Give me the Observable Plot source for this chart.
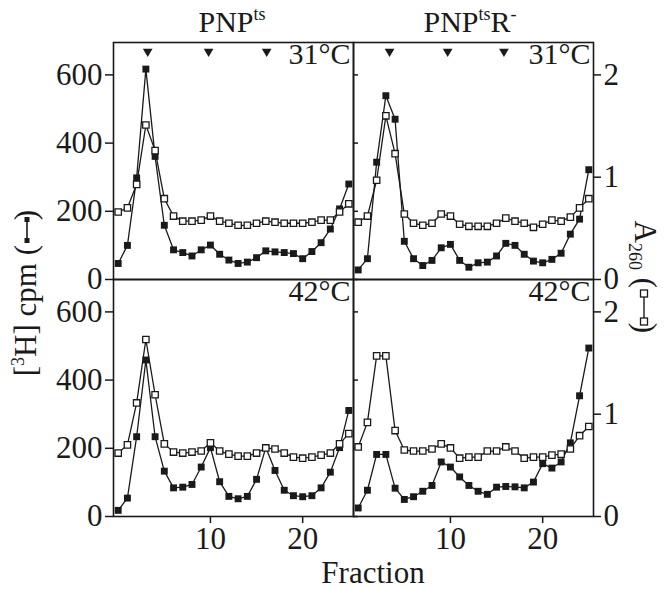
<!DOCTYPE html>
<html><head><meta charset="utf-8">
<script src="https://cdn.jsdelivr.net/npm/d3@7"></script>
<script src="https://cdn.jsdelivr.net/npm/@observablehq/plot@0.6"></script>
<style>
body{margin:0;background:#fff;}
#chart{width:665px;height:589px;}
</style></head><body><div id="chart"></div>
<script>
// ---- data ----
const fractions = [0,1,2,3,4,5,6,7,8,9,10,11,12,13,14,15,16,17,18,19,20,21,22,23,24,25];
const panels = ["PNPts", "PNPtsR-"];
const temps = ["31°C", "42°C"];
const cpmTicks = [0, 200, 400, 600];
const a260Ticks = [0, 1, 2];
const fractionTicks = [10, 20];

// [3H] cpm (filled squares)
const cpm_PNPts_31 = [47,100,298,617,361,159,87,79,69,87,101,74,57,47,51,64,84,81,79,76,61,82,108,148,207,280];
const cpm_PNPtsR_31 = [28,61,344,539,470,112,61,41,56,93,103,56,36,49,51,69,106,100,74,54,49,59,77,133,177,322];
const cpm_PNPts_42 = [18,54,234,459,234,133,84,86,94,145,202,102,59,52,59,109,202,135,77,61,58,61,84,130,202,311];
const cpm_PNPtsR_42 = [25,77,182,182,83,50,58,74,91,160,145,116,91,74,65,86,88,87,84,101,155,142,160,216,354,494];

// A260 (open squares)
const a260_PNPts_31 = [0.66,0.70,0.93,1.51,1.26,0.79,0.62,0.57,0.57,0.58,0.62,0.57,0.55,0.53,0.53,0.55,0.57,0.56,0.55,0.55,0.55,0.56,0.58,0.58,0.66,0.74];
const a260_PNPtsR_31 = [0.56,0.62,0.97,1.60,1.23,0.64,0.55,0.53,0.55,0.64,0.62,0.54,0.52,0.52,0.52,0.55,0.60,0.57,0.55,0.51,0.54,0.58,0.57,0.61,0.70,0.79];
const a260_PNPts_42 = [0.62,0.70,1.11,1.73,1.19,0.71,0.63,0.62,0.63,0.64,0.72,0.64,0.61,0.59,0.59,0.62,0.67,0.66,0.62,0.58,0.57,0.58,0.60,0.62,0.71,0.81];
const a260_PNPtsR_42 = [0.68,0.92,1.57,1.57,0.84,0.65,0.64,0.64,0.66,0.71,0.67,0.57,0.58,0.58,0.64,0.64,0.68,0.64,0.57,0.58,0.58,0.60,0.61,0.66,0.79,0.88];

// arrowhead markers (fraction positions) in the 31°C panels
const arrows_PNPts = [3.2, 9.8, 16.1];
const arrows_PNPtsR = [3.4, 9.7, 15.8];

const CPM_PER_A260 = 300; // right axis: 1 A260 unit = 300 cpm on the shared y scale

// ---- build tables ----
const series = [
  {panel: panels[0], temp: temps[0], cpm: cpm_PNPts_31, a: a260_PNPts_31},
  {panel: panels[1], temp: temps[0], cpm: cpm_PNPtsR_31, a: a260_PNPtsR_31},
  {panel: panels[0], temp: temps[1], cpm: cpm_PNPts_42, a: a260_PNPts_42},
  {panel: panels[1], temp: temps[1], cpm: cpm_PNPtsR_42, a: a260_PNPtsR_42}
];
const filled = [], open = [];
for (const s of series) {
  fractions.forEach((f, i) => {
    filled.push({panel: s.panel, temp: s.temp, f, v: s.cpm[i]});
    open.push({panel: s.panel, temp: s.temp, f, v: s.a[i] * CPM_PER_A260});
  });
}
const arrows = [
  ...arrows_PNPts.map(f => ({panel: panels[0], temp: temps[0], f})),
  ...arrows_PNPtsR.map(f => ({panel: panels[1], temp: temps[0], f}))
];
const tempLabels = [];
for (const p of panels) for (const t of temps) tempLabels.push({panel: p, temp: t});

const FONT = "Liberation Serif, Times New Roman, serif";
const INK = "#1a1a1a";

const plot = Plot.plot({
  width: 665, height: 589,
  marginLeft: 112, marginRight: 72, marginTop: 42, marginBottom: 73,
  style: {fontFamily: FONT, background: "#fff", color: INK},
  fx: {domain: panels, padding: 0, axis: null},
  fy: {domain: temps, padding: 0, axis: null},
  x: {domain: [0, 25], inset: 4.7, label: null},
  y: {domain: [0, 695], label: null},
  marks: [
    Plot.axisY(cpmTicks, {anchor: "left", tickSize: 8, tickPadding: 3, label: null, fontSize: 31, strokeWidth: 1.5, stroke: INK, fill: INK}),
    Plot.axisY(cpmTicks, {anchor: "left", facetAnchor: "right", tickSize: -5, text: null, label: null, strokeWidth: 1.5, stroke: INK}),
    Plot.axisY(a260Ticks.map(a => a * CPM_PER_A260), {anchor: "right", tickSize: 7, tickPadding: 3, tickFormat: d => d / CPM_PER_A260, label: null, fontSize: 31, strokeWidth: 1.5, stroke: INK, fill: INK}),
    Plot.axisX(fractionTicks, {anchor: "bottom", tickSize: 7, tickPadding: 3, label: null, fontSize: 31, strokeWidth: 1.5, stroke: INK, fill: INK}),
    Plot.frame({stroke: INK, strokeWidth: 1.6}),
    Plot.line(filled, {x: "f", y: "v", fx: "panel", fy: "temp", stroke: INK, strokeWidth: 1.3}),
    Plot.line(open, {x: "f", y: "v", fx: "panel", fy: "temp", stroke: INK, strokeWidth: 1.3}),
    Plot.dot(filled, {x: "f", y: "v", fx: "panel", fy: "temp", symbol: "square", r: 3.9, fill: INK, stroke: "none"}),
    Plot.dot(open, {x: "f", y: "v", fx: "panel", fy: "temp", symbol: "square", r: 3.6, fill: "#fff", stroke: INK, strokeWidth: 1.3}),
    Plot.dot(arrows, {x: "f", fx: "panel", fy: "temp", frameAnchor: "top", dy: 9, symbol: "triangle", rotate: 180, r: 3.6, fill: INK, stroke: "none"}),
    Plot.text(tempLabels, {fx: "panel", fy: "temp", text: "temp", frameAnchor: "top-right", textAnchor: "end", lineAnchor: "top", dx: -3, dy: 0, fontSize: 30, fill: INK})
  ]
});
document.getElementById("chart").appendChild(plot);

// ---- titles & axis labels (text with super/subscripts) ----
const svg = d3.select(plot);
const ann = svg.append("g").attr("font-family", FONT).attr("fill", INK);

function title(cx, parts) {
  const t = ann.append("text").attr("x", cx).attr("y", 32).attr("text-anchor", "middle").attr("font-size", 30);
  let first = true;
  for (const [txt, sup] of parts) {
    const ts = t.append("tspan").text(txt);
    if (sup) ts.attr("font-size", 18).attr("dy", -12);
    else if (!first) ts.attr("dy", 12);
    first = false;
  }
}
title(232, [["PNP", false], ["ts", true]]);
title(470, [["PNP", false], ["ts", true], ["R", false], ["-", true]]);

ann.append("text").attr("x", 373).attr("y", 583).attr("text-anchor", "middle").attr("font-size", 31).text("Fraction");

// Left label, reading bottom to top: "[3H] cpm (" ends at the legend symbol
{
  const g = ann.append("g").attr("transform", "translate(36,243) rotate(-90)");
  const t = g.append("text").attr("font-size", 31).attr("text-anchor", "end").attr("x", -2);
  t.append("tspan").text("[");
  t.append("tspan").attr("font-size", 18).attr("dy", -12).text("3");
  t.append("tspan").attr("dy", 12).text("H] cpm (");
  const yMid = -9;
  g.append("line").attr("x1", 2).attr("x2", 24).attr("y1", yMid).attr("y2", yMid).attr("stroke", INK).attr("stroke-width", 1.6);
  g.append("rect").attr("x", 0).attr("y", yMid - 2.5).attr("width", 5).attr("height", 5).attr("fill", INK);
  g.append("rect").attr("x", 21).attr("y", yMid - 2.5).attr("width", 5).attr("height", 5).attr("fill", INK);
  g.append("text").attr("font-size", 31).attr("x", 28).text(")");
}
// Right label, reading top to bottom: "A260 (" then the open-square symbol
{
  const g = ann.append("g").attr("transform", "translate(635,290) rotate(90)");
  const t = g.append("text").attr("font-size", 31).attr("text-anchor", "end").attr("x", -2);
  t.append("tspan").text("A");
  t.append("tspan").attr("font-size", 18).attr("dy", 6).text("260");
  t.append("tspan").attr("dy", -6).text(" (");
  const yMid = -9;
  g.append("line").attr("x1", 4).attr("x2", 30).attr("y1", yMid).attr("y2", yMid).attr("stroke", INK).attr("stroke-width", 1.4);
  g.append("rect").attr("x", 0).attr("y", yMid - 3.5).attr("width", 7).attr("height", 7).attr("fill", "#fff").attr("stroke", INK).attr("stroke-width", 1.3);
  g.append("rect").attr("x", 28).attr("y", yMid - 3.5).attr("width", 7).attr("height", 7).attr("fill", "#fff").attr("stroke", INK).attr("stroke-width", 1.3);
  g.append("text").attr("font-size", 31).attr("x", 38).text(")");
}
</script></body></html>
